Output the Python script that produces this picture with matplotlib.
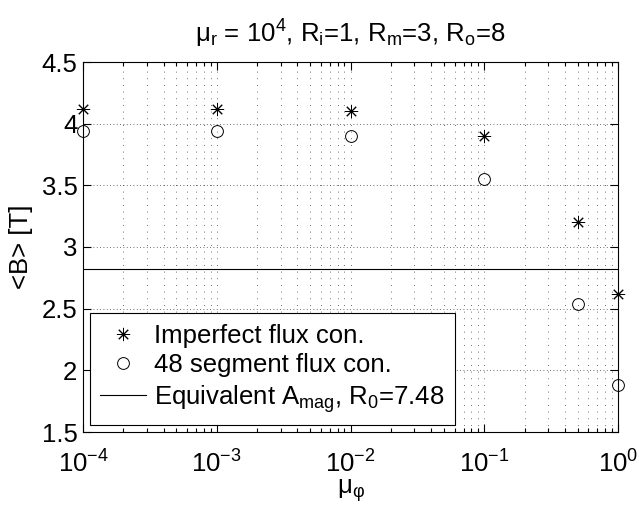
import numpy as np
import matplotlib
matplotlib.use("Agg")
import matplotlib.pyplot as plt
from matplotlib.ticker import LogLocator, NullFormatter

plt.rcParams['font.family'] = ['Liberation Sans', 'DejaVu Sans']
plt.rcParams['mathtext.fontset'] = 'custom'
plt.rcParams['mathtext.rm'] = 'Liberation Sans'
plt.rcParams['mathtext.it'] = 'Liberation Sans:italic'
plt.rcParams['mathtext.sf'] = 'Liberation Sans'
plt.rcParams['mathtext.default'] = 'regular'

# Data
mu_phi = [1e-4, 1e-3, 1e-2, 1e-1, 0.5, 1.0]
B_imperfect = [4.12, 4.12, 4.10, 3.90, 3.20, 2.62]
B_segment = [3.94, 3.94, 3.90, 3.55, 2.54, 1.88]
B_equivalent = 2.82
yticks = [1.5, 2, 2.5, 3, 3.5, 4, 4.5]
ytick_labels = ['1.5', '2', '2.5', '3', '3.5', '4', '4.5']

FS = 18.5

fig = plt.figure(figsize=(6.39, 5.13), dpi=100)
ax = fig.add_axes([83/639, 1-432/513, (618-83)/639, (432-62)/513])

asterisk = (8, 2, 0)
ax.plot(mu_phi, B_imperfect, linestyle='none', marker=asterisk, markersize=9.5,
        markeredgewidth=0.7, color='black', label='Imperfect flux con.',
        clip_on=False, zorder=3)
ax.plot(mu_phi, B_segment, linestyle='none', marker='o', markersize=8.5,
        markerfacecolor='none', markeredgewidth=0.7, color='black',
        label='48 segment flux con.', clip_on=False, zorder=3)
ax.axhline(B_equivalent, color='black', linewidth=0.8,
           label='Equivalent A$_{mag}$, R$_0$=7.48')

ax.set_xscale('log')
ax.set_xlim(1e-4, 1e0)
ax.set_ylim(1.5, 4.5)
ax.set_yticks(yticks)
ax.set_yticklabels(ytick_labels)
ax.xaxis.set_major_locator(LogLocator(base=10, numticks=10))
ax.xaxis.set_minor_locator(LogLocator(base=10, subs=np.arange(2, 10), numticks=20))
ax.xaxis.set_minor_formatter(NullFormatter())

ax.grid(True, which='major', axis='y', color='0.25', linestyle=(0, (1, 3)), linewidth=0.6)
ax.grid(True, which='both', axis='x', color='0.25', linestyle=(0, (1, 7)), linewidth=0.6)

ax.tick_params(which='both', direction='in', top=True, right=True,
               labelsize=FS, width=0.8)
ax.tick_params(which='major', length=6)
ax.tick_params(which='minor', length=3)
ax.tick_params(axis='x', which='major', pad=13)
ax.tick_params(axis='y', which='major', pad=4)
for s in ax.spines.values():
    s.set_linewidth(0.8)

ax.set_title('μ$_r$ = 10$^4$, R$_i$=1, R$_m$=3, R$_o$=8', fontsize=FS, pad=14)
ax.set_ylabel('<B> [T]', fontsize=FS, labelpad=6)
ax.set_xlabel('μ$_φ$', fontsize=FS, labelpad=0)

leg = ax.legend(loc='lower left', bbox_to_anchor=(0.013, 0.019), borderaxespad=0,
                fontsize=FS, fancybox=False, framealpha=1, edgecolor='black',
                handlelength=1.8, handletextpad=0.3, labelspacing=0.22,
                borderpad=0.4)
leg.get_frame().set_linewidth(0.8)

fig.savefig('out.png', dpi=100, facecolor='white')
